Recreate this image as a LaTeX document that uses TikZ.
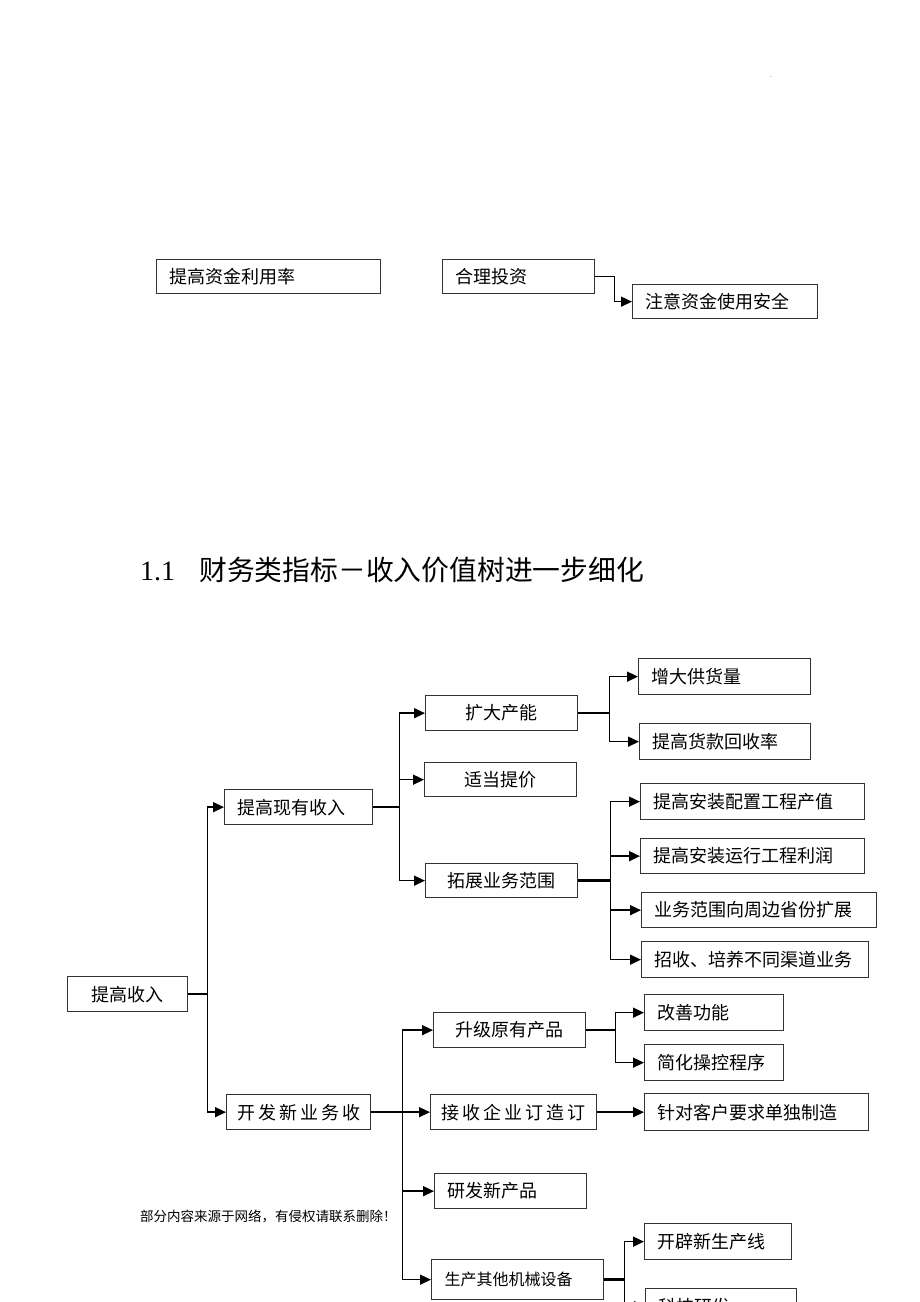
\documentclass[tikz,border=0pt]{standalone}
\usepackage{fontspec}
\setmainfont{Liberation Serif}
\newfontfamily\cjk{Noto Sans CJK SC}
\usetikzlibrary{arrows.meta}
\begin{document}
\begin{tikzpicture}[x=1pt,y=-1pt,
 bx/.style={draw=black!80, line width=1.3pt, inner ysep=0pt, inner xsep=0pt, minimum height=35pt, anchor=north west, font=\cjk\fontsize{18}{20}\selectfont, align=center},
 lb/.style={bx, inner xsep=13pt, align=left, text width=#1},
 arr/.style={line width=1.5pt, -{Triangle[length=11pt,width=10pt]}},
 stub/.style={line width=2.5pt}]
\useasboundingbox (0,0) rectangle (920,1302);
\fill[white] (0,0) rectangle (920,1302);
\clip (0,0) rectangle (920,1302);

\node[font=\fontsize{6}{6}\selectfont, inner sep=0pt] (dot) at (771,77) {.};

% top section
\node[lb=198pt, minimum height=34pt] (fund) at (156,259) {提高资金利用率};
\node[lb=126pt, minimum height=34pt] (invest) at (442,259) {合理投资};
\node[lb=159pt, minimum height=34pt] (safe) at (632,284) {注意资金使用安全};
\draw[arr] (invest.east) -- ++(19,0) coordinate (jA) |- (safe.west);

% title
\node[anchor=west, inner sep=0pt] (title) at (140,570) {\fontsize{28}{30}\selectfont 1.1\hspace{24pt}{\cjk\fontsize{27.8}{30}\selectfont 财务类指标－收入价值树进一步细化}};

% tree
\node[bx, minimum width=120pt] (root) at (67,976) {提高收入};
\node[lb=122pt] (cur) at (224,789) {提高现有收入};
\node[bx, minimum width=144pt] (newb) at (226,1094) {开\,发\,新\,业\,务\,收};

\node[bx, minimum width=152pt] (cap) at (425,695) {扩大产能};
\node[bx, minimum width=152pt, minimum height=34pt] (price) at (424,762) {适当提价};
\node[bx, minimum width=152pt, minimum height=34pt] (scope) at (425,863) {拓展业务范围};

\node[lb=146pt, minimum height=36pt] (supply) at (638,658) {增大供货量};
\node[lb=145pt, minimum height=36pt] (collect) at (639,723) {提高货款回收率};

\node[lb=198pt, minimum height=36pt] (s1) at (640,783) {提高安装配置工程产值};
\node[lb=198pt] (s2) at (640,838) {提高安装运行工程利润};
\node[lb=209pt] (s3) at (641,892) {业务范围向周边省份扩展};
\node[lb=201pt, minimum height=36pt] (s4) at (641,941) {招收、培养不同渠道业务};

\node[bx, minimum width=152pt] (up) at (433,1012) {升级原有产品};
\node[bx, minimum width=166pt] (order) at (430,1094) {接\,收\,企\,业\,订\,造\,订};
\node[lb=126pt] (rd) at (434,1173) {研发新产品};
\node[lb=146pt, minimum height=40pt, font=\cjk\fontsize{16}{18}\selectfont] (mach) at (431,1259) {生产其他机械设备};

\node[lb=113pt, minimum height=36pt] (u1) at (644,994) {改善功能};
\node[lb=113pt, minimum height=36pt] (u2) at (644,1044) {简化操控程序};
\node[lb=198pt, minimum height=37pt] (o1) at (644,1093) {针对客户要求单独制造};
\node[lb=121pt, minimum height=36pt] (m1) at (644,1223) {开辟新生产线};
\node[lb=125pt] (m2) at (645,1288) {科技研发};

\node[anchor=west, inner sep=0pt, font=\cjk\fontsize{13.5}{15}\selectfont] (note) at (140,1216) {部分内容来源于网络，有侵权请联系删除！};

% connectors
\draw[stub] (root.east) -- ++(19,0) coordinate (j0);
\draw[arr] (j0) |- (cur.west);
\draw[arr] (j0) |- (newb.west);

\draw[stub] (cur.east) -- ++(26,0) coordinate (j1);
\draw[arr] (j1) |- (cap.west);
\draw[arr] (j1) |- (price.west);
\draw[arr] (j1) |- (scope.west);

\draw[stub] (cap.east) -- ++(31,0) coordinate (j2);
\draw[arr] (j2) |- (supply.west);
\draw[arr] (j2) |- (collect.west);

\draw[stub] (scope.east) -- ++(32,0) coordinate (j3);
\draw[arr] (j3) |- (s1.west);
\draw[arr] (j3) |- (s2.west);
\draw[arr] (j3) |- (s3.west);
\draw[arr] (j3) |- (s4.west);

\draw[stub] (newb.east) -- ++(31,0) coordinate (j4);
\draw[arr] (j4) |- (up.west);
\draw[arr] (j4) |- (order.west);
\draw[arr] (j4) |- (rd.west);
\draw[arr] (j4) |- (mach.west);

\draw[stub] (up.east) -- ++(29,0) coordinate (j5);
\draw[arr] (j5) |- (u1.west);
\draw[arr] (j5) |- (u2.west);

\draw[arr] (order.east) -- (o1.west);

\draw[stub] (mach.east) -- ++(20,0) coordinate (j6);
\draw[arr] (j6) |- (m1.west);
\draw[arr] (j6) |- (m2.west);
\end{tikzpicture}
\end{document}
